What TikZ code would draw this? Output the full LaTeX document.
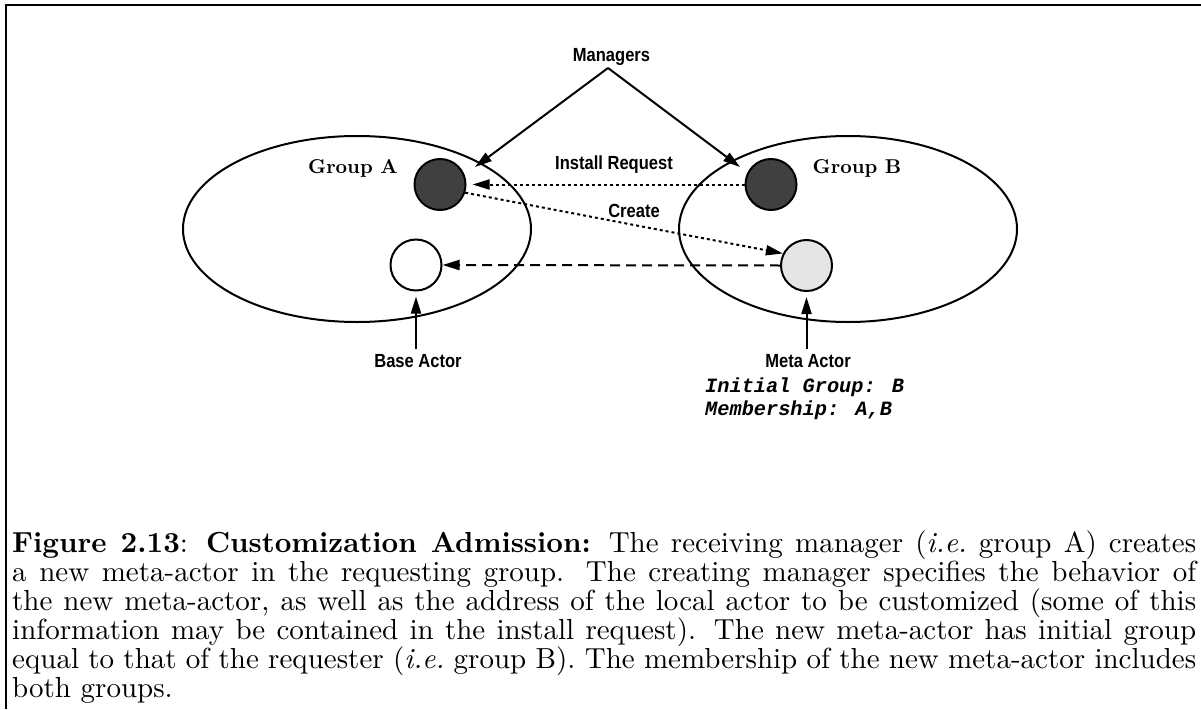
\documentclass[tikz,border=0pt]{standalone}
\usepackage{fontspec}
\usetikzlibrary{arrows.meta,shapes.geometric}
\newfontfamily\labfont[FakeStretch=0.87]{Liberation Sans}
\newfontfamily\codefont{Liberation Mono}
\newfontfamily\capfont[Extension=.otf, UprightFont=*-regular, BoldFont=*-bold, ItalicFont=*-italic]{lmroman10}
\newcommand\capline[1]{\makebox[1184pt][s]{#1}}
\begin{document}
\begin{tikzpicture}[x=1pt,y=-1pt,
  lab/.style={font=\labfont\bfseries\fontsize{19}{22}\selectfont, inner sep=0pt, anchor=base},
  grplab/.style={font=\capfont\bfseries\fontsize{20}{24}\selectfont, inner sep=0pt, anchor=base},
  code/.style={font=\codefont\bfseries\itshape\fontsize{20.3}{23}\selectfont, inner sep=0pt, anchor=base west},
  captext/.style={font=\capfont\fontsize{29}{34}\selectfont, inner sep=0pt, anchor=base west},
  grp/.style={draw, ellipse, line width=2pt, inner sep=0pt},
  actor/.style={draw, circle, line width=2pt, minimum size=51pt, inner sep=0pt},
  arr/.style={line width=2pt, -{Triangle[length=17pt,width=10pt]}},
  dotarr/.style={arr, dash pattern=on 3pt off 3pt},
  dasharr/.style={arr, dash pattern=on 10pt off 6pt},
]
\useasboundingbox (0,0) rectangle (1201,709);
% frame
\draw[line width=2pt] (6,709) -- (6,5) -- (1201,5);

% groups
\node[grp, minimum width=348pt, minimum height=186pt] (gA) at (357,229) {};
\node[grp, minimum width=338pt, minimum height=186pt] (gB) at (848,229) {};

% actors
\node[actor, fill={rgb,255:red,64;green,64;blue,64}] (cA) at (440,184.5) {};
\node[actor, fill={rgb,255:red,64;green,64;blue,64}] (cB) at (771,184.5) {};
\node[actor, fill=white] (cBase) at (416,265) {};
\node[actor, fill={rgb,255:red,229;green,229;blue,229}] (cM) at (806.5,265.5) {};

% labels
\node[lab] (mgr) at (611.5,62) {Managers};
\node[lab] (inst) at (614,169.5) {Install Request};
\node[lab] (crt) at (634,217.5) {Create};
\node[lab] (lBase) at (418,367.5) {Base Actor};
\node[lab] (lMeta) at (808,367.5) {Meta Actor};
\node[grplab] (tA) at (353,173.3) {Group A};
\node[grplab] (tB) at (857,173.3) {Group B};
\node[code] (ig) at (705,392) {Initial Group: B};
\node[code] (mb) at (705,415) {Membership: A,B};

% manager arrows
\coordinate (apex) at (608,68);
\coordinate (mA) at (475,167);
\coordinate (mB) at (740,167);
\draw[arr] (apex) -- (mA);
\draw[arr] (apex) -- (mB);

% messages
\draw[dotarr, shorten >=6pt] (cB.west) -- (cA.east);
\draw[dotarr] (cA.-18) -- (cM.153);
\draw[dasharr] (cM.west) -- (cBase.east);

% pointers to actors
\coordinate (pBase) at (416,349);
\coordinate (pMeta) at (806.5,349);
\draw[arr, shorten >=5pt] (pBase) -- (cBase.south);
\draw[arr, shorten >=5pt] (pMeta) -- (cM.south);

% caption, one node per printed line
\node[captext] (cap1) at (12,552) {\capline{\textbf{Figure 2.13}: \textbf{Customization Admission:} The receiving manager (\textit{i.e.}\ group A) creates}};
\node[captext] (cap2) at (12,581) {\capline{a new meta-actor in the requesting group.  The creating manager specifies the behavior of}};
\node[captext] (cap3) at (12,610) {\capline{the new meta-actor, as well as the address of the local actor to be customized (some of this}};
\node[captext] (cap4) at (12,639) {\capline{information may be contained in the install request).  The new meta-actor has initial group}};
\node[captext] (cap5) at (12,668) {\capline{equal to that of the requester (\textit{i.e.}\ group B).  The membership of the new meta-actor includes}};
\node[captext] (cap6) at (12,697) {both groups.};
\end{tikzpicture}
\end{document}
